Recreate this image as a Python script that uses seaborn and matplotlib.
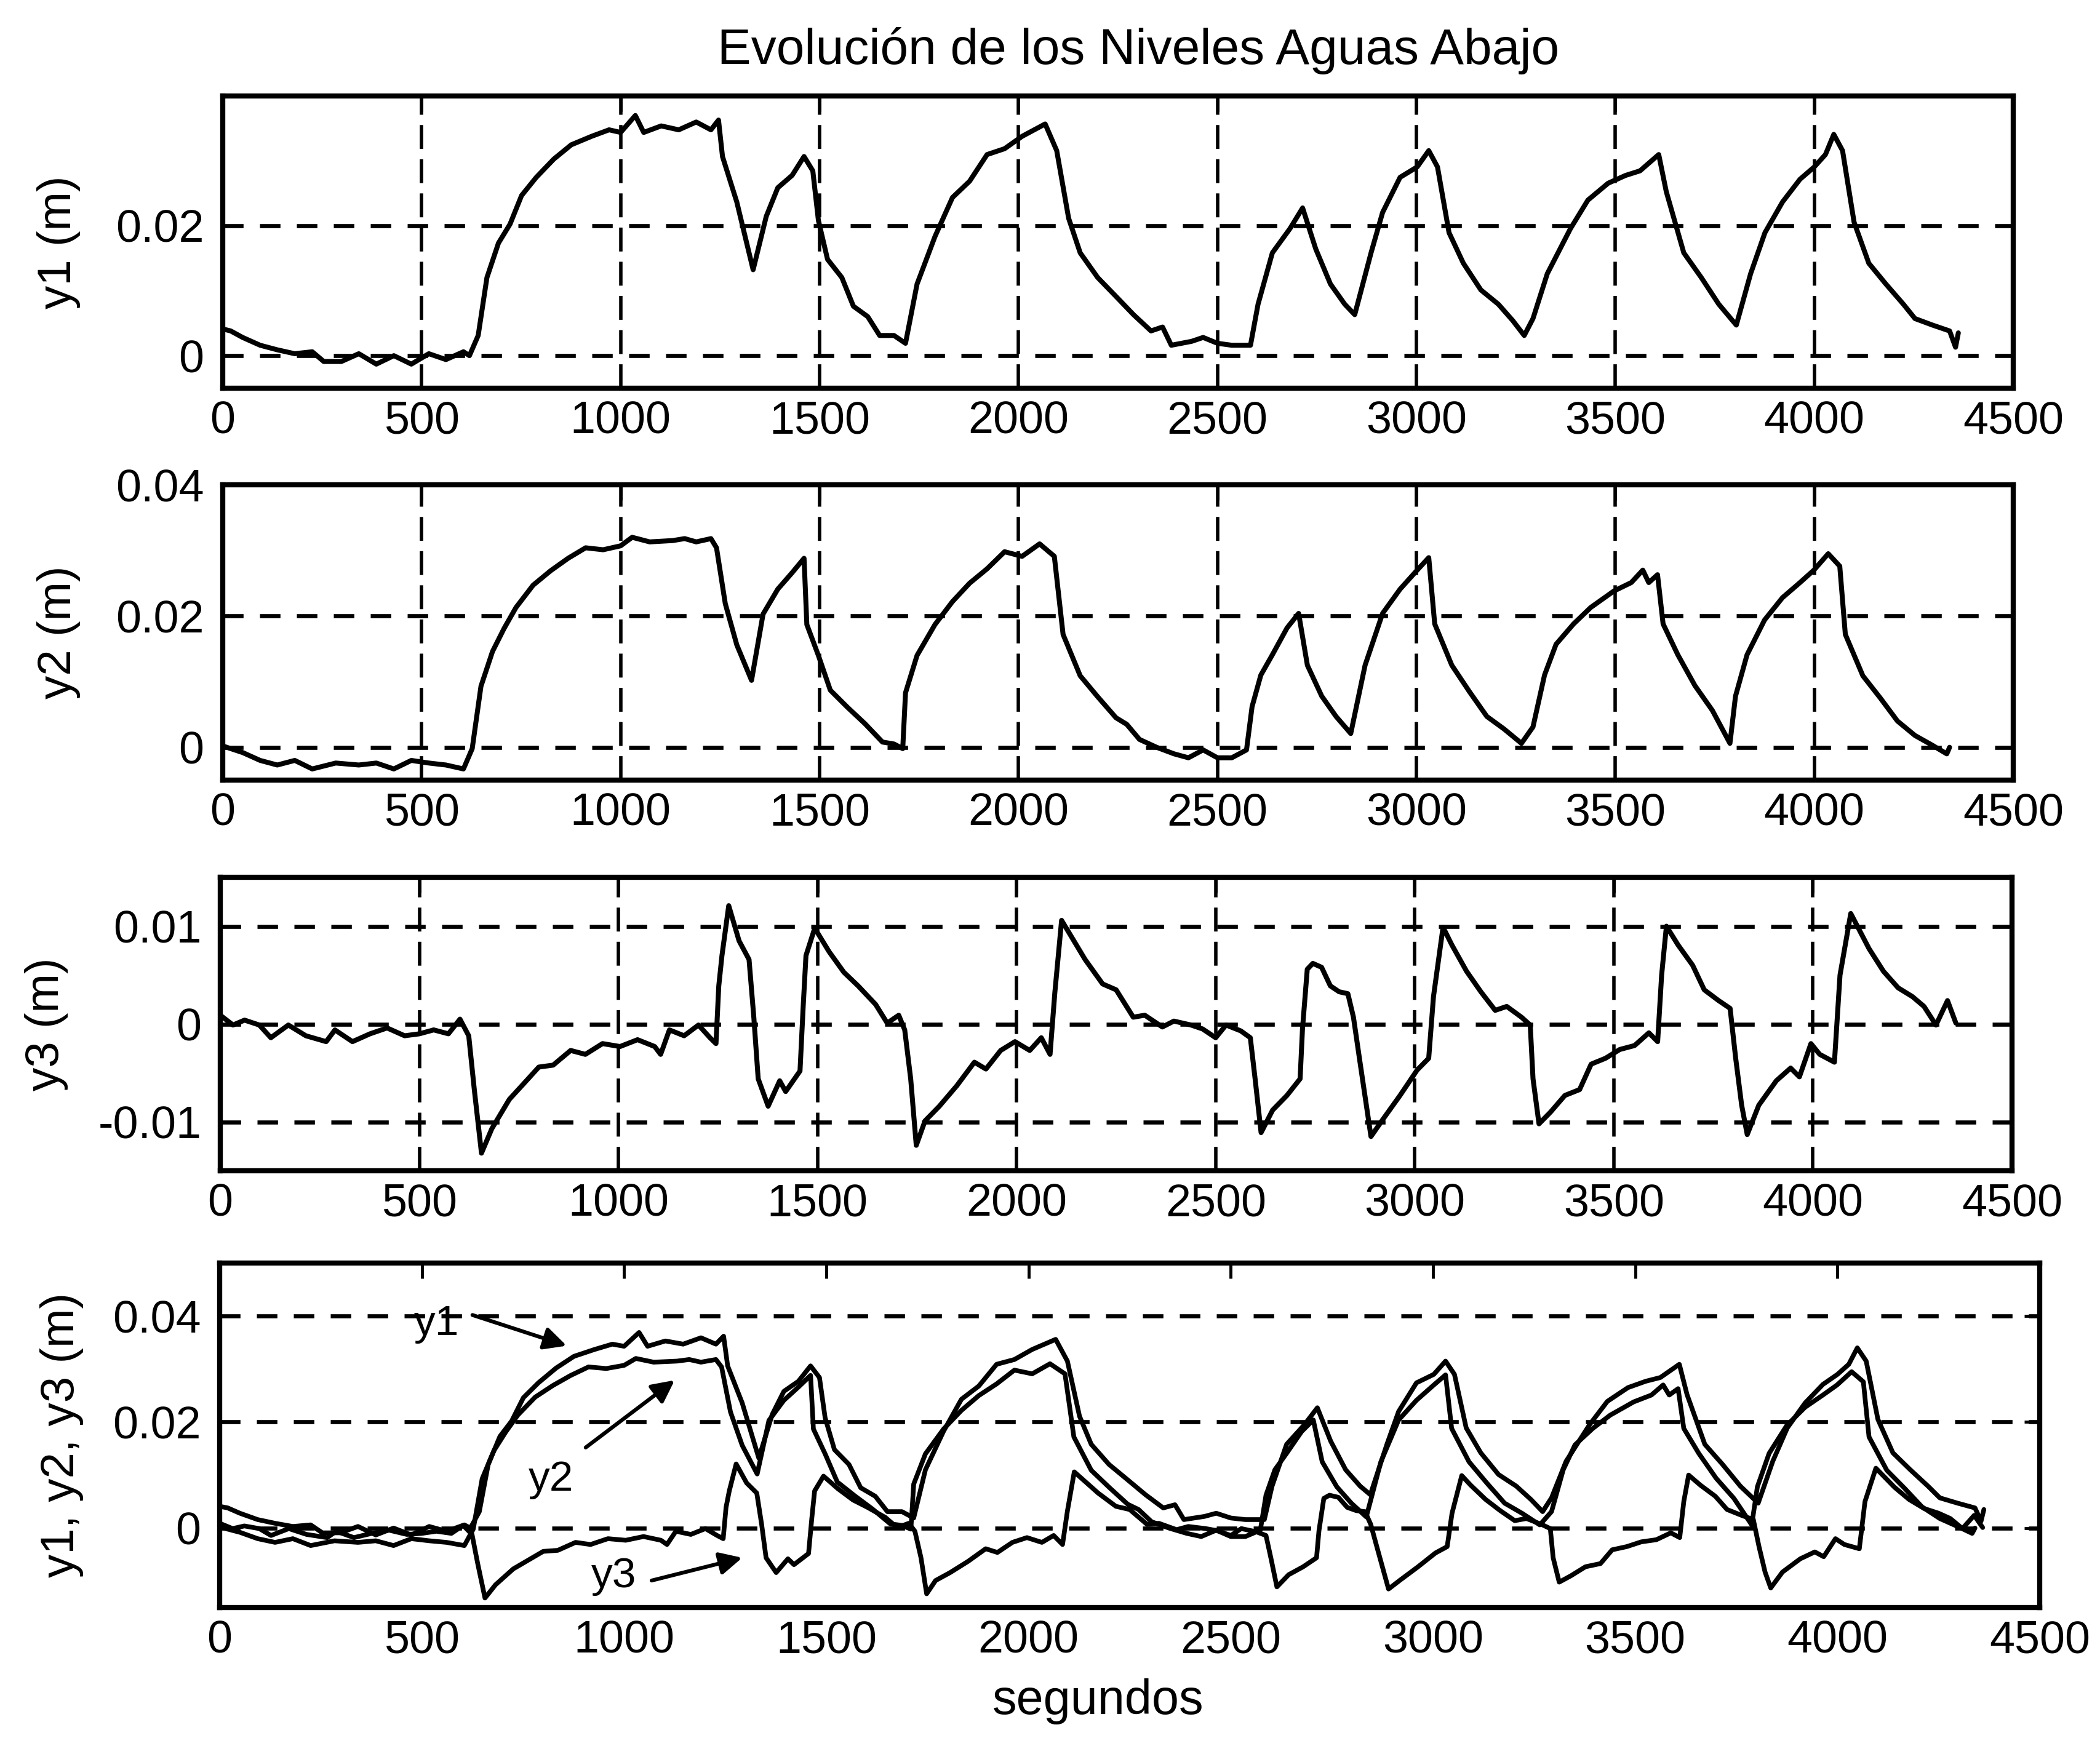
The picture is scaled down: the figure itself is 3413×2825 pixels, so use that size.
import matplotlib
matplotlib.use("Agg")
import matplotlib.pyplot as plt
import seaborn as sns

# downstream water levels (t in seconds, levels in m)
t1 = [0, 20, 50, 94, 137, 181, 225, 254, 298, 342, 386, 430, 474, 518, 561, 605, 620, 642, 664, 693,
      722, 751, 788, 832, 876, 927, 971, 1000, 1037, 1058, 1102, 1146, 1190, 1227, 1246, 1256, 1292, 1333,
      1366, 1395, 1431, 1461, 1483, 1497, 1520, 1556, 1585, 1621, 1651, 1687, 1716, 1745, 1790, 1834, 1877,
      1921, 1965, 2009, 2067, 2096, 2126, 2155, 2199, 2245, 2289, 2333, 2362, 2384, 2435, 2464, 2500, 2536,
      2583, 2602, 2638, 2682, 2714, 2747, 2784, 2820, 2845, 2886, 2915, 2959, 3002, 3031, 3053, 3082, 3118,
      3162, 3206, 3242, 3271, 3293, 3329, 3387, 3431, 3482, 3526, 3562, 3609, 3628, 3672, 3716, 3760, 3804,
      3840, 3876, 3920, 3964, 4000, 4028, 4049, 4071, 4100, 4137, 4180, 4224, 4253, 4297, 4340, 4355, 4362]
y1 = [0.0041, 0.0038, 0.0028, 0.0016, 0.0009, 0.0003, 0.0006, -0.0009, -0.0009, 0.0003, -0.0013, 0.0,
      -0.0013, 0.0003, -0.0006, 0.0006, 0.0, 0.0031, 0.012, 0.0173, 0.0202, 0.0246, 0.0274, 0.0302, 0.0324,
      0.0337, 0.0347, 0.0343, 0.0369, 0.0343, 0.0353, 0.0347, 0.0359, 0.0347, 0.0362, 0.0306, 0.0236, 0.0132,
      0.0214, 0.0258, 0.0277, 0.0306, 0.0284, 0.0208, 0.0148, 0.012, 0.0076, 0.006, 0.0031, 0.0031, 0.0019,
      0.011, 0.0183, 0.0243, 0.0268, 0.0309, 0.0318, 0.0337, 0.0356, 0.0315, 0.0211, 0.0158, 0.012, 0.0091,
      0.0063, 0.0038, 0.0044, 0.0016, 0.0022, 0.0028, 0.0019, 0.0016, 0.0016, 0.0079, 0.0158, 0.0195, 0.0227,
      0.0164, 0.011, 0.0079, 0.0063, 0.0158, 0.022, 0.0274, 0.029, 0.0315, 0.029, 0.0189, 0.0142, 0.0101,
      0.0079, 0.0054, 0.0031, 0.0057, 0.0126, 0.0195, 0.0239, 0.0265, 0.0277, 0.0284, 0.0309, 0.0252, 0.0158,
      0.012, 0.0079, 0.0047, 0.0126, 0.0189, 0.0236, 0.0271, 0.029, 0.0309, 0.034, 0.0315, 0.0205, 0.0142,
      0.011, 0.0079, 0.0057, 0.0047, 0.0038, 0.0013, 0.0035]

t2 = [0, 50, 94, 137, 181, 225, 284, 342, 386, 430, 474, 518, 561, 605, 627, 649, 678, 707, 737, 780, 824,
      868, 912, 956, 1000, 1029, 1073, 1131, 1161, 1190, 1227, 1241, 1263, 1292, 1329, 1358, 1395, 1431, 1461,
      1468, 1497, 1527, 1570, 1614, 1658, 1687, 1709, 1716, 1745, 1790, 1834, 1877, 1921, 1965, 2009, 2053,
      2090, 2112, 2155, 2199, 2245, 2272, 2304, 2347, 2391, 2427, 2464, 2500, 2536, 2573, 2587, 2609, 2638,
      2675, 2704, 2726, 2762, 2798, 2835, 2871, 2915, 2959, 3002, 3031, 3046, 3089, 3133, 3177, 3220, 3264,
      3293, 3322, 3351, 3395, 3438, 3496, 3540, 3569, 3584, 3606, 3620, 3657, 3700, 3744, 3788, 3802, 3831,
      3875, 3920, 3964, 3999, 4035, 4064, 4078, 4122, 4166, 4209, 4253, 4297, 4333, 4340]
y2 = [0.0002, -0.0008, -0.002, -0.0027, -0.002, -0.0033, -0.0024, -0.0027, -0.0024, -0.0033, -0.002,
      -0.0024, -0.0027, -0.0033, -0.0002, 0.0093, 0.0146, 0.0181, 0.0213, 0.0247, 0.0269, 0.0288, 0.0304,
      0.0301, 0.0307, 0.032, 0.0313, 0.0315, 0.0318, 0.0313, 0.0318, 0.0304, 0.0219, 0.0156, 0.0102, 0.0203,
      0.0241, 0.0266, 0.0288, 0.0187, 0.014, 0.0087, 0.0061, 0.0036, 0.0008, 0.0005, -0.0002, 0.0083, 0.014,
      0.0187, 0.0222, 0.025, 0.0272, 0.0298, 0.0291, 0.031, 0.0291, 0.0172, 0.0109, 0.0077, 0.0045, 0.0035,
      0.0012, 0.0, -0.001, -0.0016, -0.0004, -0.0016, -0.0016, -0.0004, 0.0062, 0.011, 0.0141, 0.0182, 0.0204,
      0.0125, 0.0078, 0.0047, 0.0021, 0.0125, 0.0204, 0.0241, 0.027, 0.0289, 0.0188, 0.0125, 0.0085, 0.0047,
      0.0028, 0.0006, 0.0031, 0.011, 0.0157, 0.0188, 0.0213, 0.0238, 0.0251, 0.027, 0.0251, 0.0263, 0.0188,
      0.0141, 0.0094, 0.0056, 0.0006, 0.0078, 0.0141, 0.0194, 0.0228, 0.0251, 0.027, 0.0295, 0.0276, 0.0172,
      0.0109, 0.0075, 0.004, 0.0018, 0.0003, -0.001, 0.0]

t3 = [0, 32, 61, 98, 127, 171, 215, 266, 288, 332, 376, 419, 463, 500, 536, 573, 602, 624, 638, 656, 682,
      726, 762, 800, 836, 880, 917, 960, 1004, 1048, 1091, 1106, 1128, 1165, 1201, 1230, 1245, 1252, 1260,
      1277, 1303, 1328, 1340, 1351, 1376, 1405, 1420, 1456, 1464, 1471, 1493, 1529, 1566, 1602, 1646, 1675,
      1704, 1719, 1734, 1748, 1770, 1806, 1850, 1894, 1923, 1960, 1996, 2033, 2062, 2084, 2096, 2113, 2172,
      2216, 2250, 2293, 2322, 2366, 2395, 2438, 2467, 2500, 2526, 2563, 2587, 2599, 2614, 2643, 2679, 2712,
      2718, 2730, 2744, 2766, 2788, 2810, 2832, 2846, 2861, 2890, 2919, 2963, 3006, 3035, 3047, 3071, 3093,
      3130, 3166, 3202, 3231, 3268, 3290, 3297, 3312, 3341, 3377, 3414, 3443, 3479, 3515, 3552, 3588, 3610,
      3620, 3632, 3661, 3698, 3727, 3763, 3792, 3806, 3821, 3835, 3864, 3908, 3944, 3966, 3995, 4017, 4054,
      4068, 4095, 4141, 4177, 4214, 4250, 4279, 4309, 4338, 4359]
y3 = [0.0009, -0.0001, 0.0004, -0.0001, -0.0014, -0.0001, -0.0012, -0.0018, -0.0006, -0.0018, -0.001,
      -0.0004, -0.0012, -0.001, -0.0006, -0.001, 0.0005, -0.0012, -0.0067, -0.0132, -0.0107, -0.0077, -0.0061,
      -0.0044, -0.0042, -0.0027, -0.0031, -0.002, -0.0023, -0.0016, -0.0023, -0.0031, -0.0006, -0.0012,
      -0.0001, -0.0014, -0.002, 0.0039, 0.007, 0.0121, 0.0085, 0.0066, 0.0007, -0.0056, -0.0084, -0.0058,
      -0.0069, -0.0048, 0.0018, 0.007, 0.0098, 0.0074, 0.0053, 0.0039, 0.002, 0.0001, 0.0009, -0.0006, -0.0056,
      -0.0124, -0.0099, -0.0084, -0.0063, -0.0039, -0.0046, -0.0027, -0.0018, -0.0027, -0.0014, -0.0031,
      0.0032, 0.0106, 0.0066, 0.0041, 0.0035, 0.0007, 0.0009, -0.0003, 0.0003, -0.0001, -0.0005, -0.0014,
      -0.0001, -0.0007, -0.0014, -0.0056, -0.0111, -0.0088, -0.0073, -0.0056, -0.0005, 0.0056, 0.0062, 0.0058,
      0.0039, 0.0033, 0.0031, 0.0007, -0.0035, -0.0115, -0.0098, -0.0073, -0.0047, -0.0035, 0.0028, 0.0099,
      0.0081, 0.0054, 0.0033, 0.0014, 0.0018, 0.0007, -0.0001, -0.0056, -0.0102, -0.009, -0.0073, -0.0067,
      -0.0041, -0.0035, -0.0026, -0.0022, -0.0009, -0.0018, 0.005, 0.01, 0.0081, 0.006, 0.0035, 0.0024, 0.0016,
      -0.0035, -0.0083, -0.0113, -0.0083, -0.0058, -0.0045, -0.0054, -0.002, -0.0031, -0.0039, 0.005, 0.0113,
      0.0077, 0.0054, 0.0037, 0.0028, 0.0018, -0.0001, 0.0024, 0.0001]

x_ticks = [0, 500, 1000, 1500, 2000, 2500, 3000, 3500, 4000, 4500]
titulo = "Evolución de los Niveles Aguas Abajo"

sns.set_style("white")
plt.rcParams["font.family"] = ["Liberation Sans", "DejaVu Sans"]
plt.rcParams["text.color"] = "black"
plt.rcParams["axes.labelcolor"] = "black"

W, H = 3413, 2825
fig = plt.figure(figsize=(W / 100, H / 100), dpi=100)


def add_ax(l, t, r, b):
    return fig.add_axes([l / W, 1 - b / H, (r - l) / W, (b - t) / H])


def style(ax, ylim, yticks, ylabels, label, label_px, left_px, width_px, vgrid=True):
    ax.set_xlim(0, 4500)
    ax.set_ylim(*ylim)
    ax.set_xticks(x_ticks)
    ax.set_xticklabels([str(v) for v in x_ticks])
    ax.set_yticks(yticks)
    ax.set_yticklabels(ylabels)
    ax.tick_params(direction="in", length=18, width=3.5, top=True, right=True,
                   labelsize=53, colors="black")
    ax.tick_params(axis="x", pad=14)
    ax.tick_params(axis="y", pad=22)
    for s in ax.spines.values():
        s.set_linewidth(6)
        s.set_color("black")
    ax.yaxis.grid(True, color="black", lw=4.8, ls=(0, (5, 4)))
    if vgrid:
        ax.xaxis.grid(True, color="black", lw=4, ls=(0, (7, 3)))
    ax.set_xlabel("")
    ax.set_ylabel(label, fontsize=55, va="center")
    ax.yaxis.set_label_coords((label_px - left_px) / width_px, 0.5)


series = [(t1, y1), (t2, y2), (t3, y3)]

ax1 = add_ax(362, 156, 3272, 631)
ax2 = add_ax(362, 788, 3272, 1268)
ax3 = add_ax(358, 1426, 3270, 1903)
ax4 = add_ax(357, 2053, 3315, 2613)

for ax, (t, y) in zip([ax1, ax2, ax3], series):
    sns.lineplot(x=t, y=y, ax=ax, color="black", lw=5.8, estimator=None, sort=False)
for t, y in series:
    sns.lineplot(x=t, y=y, ax=ax4, color="black", lw=5.5, estimator=None, sort=False)

style(ax1, (-0.005, 0.0399), [0, 0.02], ["0", "0.02"], "y1 (m)", 95, 362, 2910)
style(ax2, (-0.005, 0.04), [0, 0.02, 0.04], ["0", "0.02", "0.04"], "y2 (m)", 95, 362, 2910)
style(ax3, (-0.015, 0.015), [-0.01, 0, 0.01], ["-0.01", "0", "0.01"], "y3 (m)", 76, 358, 2912)
style(ax4, (-0.015, 0.05), [0, 0.02, 0.04], ["0", "0.02", "0.04"], "y1, y2, y3 (m)", 100, 357, 2958,
      vgrid=False)

ax4.set_xlabel("segundos", fontsize=57, va="top")
ax4.xaxis.set_label_coords((1785 - 357) / 2958, -0.205)

# curve labels with arrows in the bottom panel
arrow = dict(arrowstyle="-|>", color="black", lw=4.5, mutation_scale=55, shrinkA=0, shrinkB=0)
ax4.text(537, 0.0385, "y1", fontsize=50, ha="center", va="center")
ax4.annotate("", xy=(858, 0.0344), xytext=(625, 0.0402), arrowprops=arrow)
ax4.text(820, 0.0092, "y2", fontsize=50, ha="center", va="center")
ax4.annotate("", xy=(1125, 0.0279), xytext=(905, 0.0152), arrowprops=arrow)
ax4.text(975, -0.0091, "y3", fontsize=50, ha="center", va="center")
ax4.annotate("", xy=(1292, -0.0056), xytext=(1068, -0.0099), arrowprops=arrow)

fig.text(1850 / W, 1 - 104 / H, titulo, fontsize=59, ha="center", va="baseline")

fig.savefig("out.png", dpi=100, facecolor="white")
